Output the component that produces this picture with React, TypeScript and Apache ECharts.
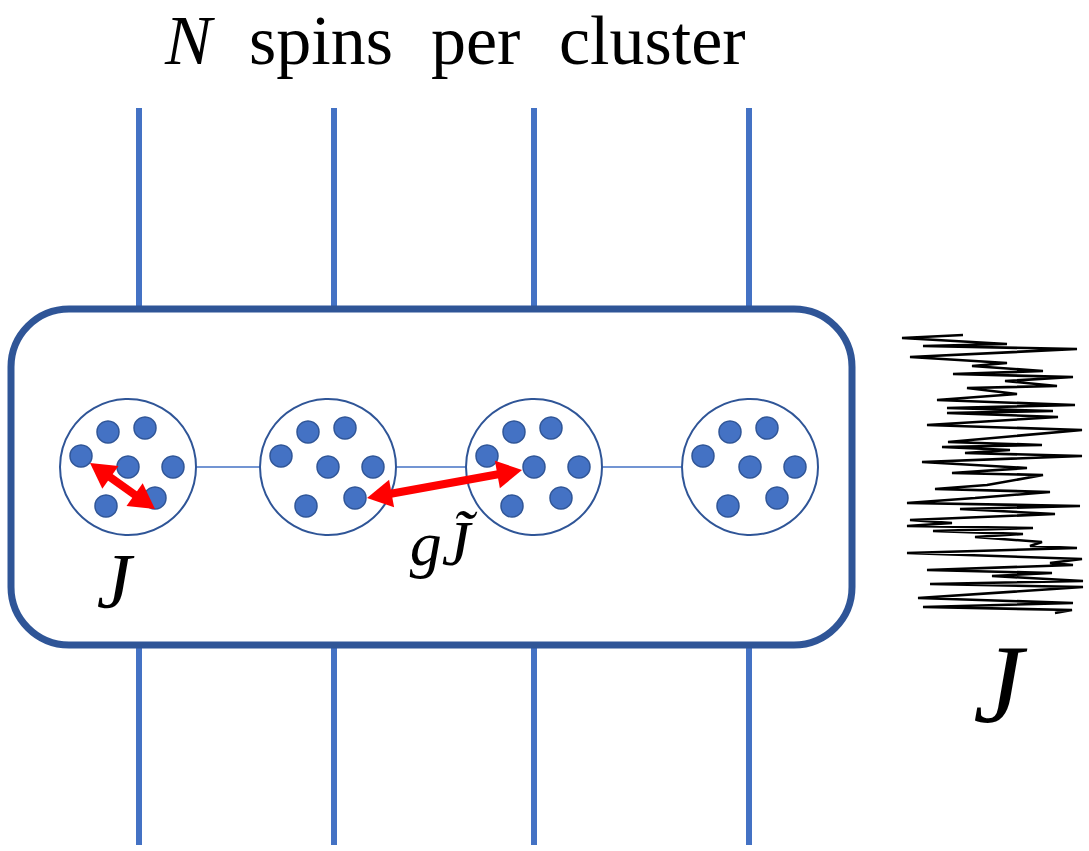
import React, { useEffect, useRef } from "react";
import * as echarts from "echarts";

// ---- Diagram data (diagram coordinates, 1 unit = 1 px of the 1089x851 canvas) ----
const leadX = [139, 334, 534, 749];
const leadTopSpan = [108, 310];
const leadBottomSpan = [645, 845];
const boxSpan = [11, 309, 852, 645];
const clusterX = [128, 328, 534, 750];
const clusterY = 467;
const spinOffsets = [
  [-20, -35],
  [17, -39],
  [-47, -11],
  [0, 0],
  [45, 0],
  [27, 31],
  [-22, 39],
];
const couplingArrows = [
  [90, 463, 155, 509],
  [367, 498, 522, 470],
];
const noiseTrace = [
  [963, 335], [902, 338], [1007, 344], [923, 346], [1077, 349], [910, 357],
  [1007, 363], [972, 366], [1043, 371], [953, 374], [1073, 377], [1005, 381],
  [1057, 386], [967, 388], [1017, 394], [937, 400], [1075, 405], [947, 408],
  [1053, 411], [947, 413], [1058, 417], [927, 425], [1082, 430], [948, 442],
  [1042, 445], [942, 447], [1010, 450], [965, 453], [1082, 456], [922, 462],
  [1027, 468], [952, 473], [1043, 475], [987, 485], [935, 489], [1050, 492],
  [975, 498], [907, 503], [1080, 506], [960, 509], [1055, 514], [910, 520],
  [952, 523], [907, 526], [1033, 528], [933, 531], [1023, 534], [975, 537],
  [1042, 542], [1030, 546], [1077, 548], [907, 553], [1082, 559], [1050, 563],
  [1073, 565], [927, 570], [1052, 573], [992, 576], [1083, 581], [930, 584],
  [1083, 587], [918, 598], [1073, 603], [923, 607], [1072, 610], [1055, 613],
];
const titleWords = ["N", "spins", "per", "cluster"];
const titleWordX = [165, 249, 431, 559];

const BLUE = "#4472C4";
const DARK_BLUE = "#2F5597";
const RED = "#FF0000";

export default function App() {
  const ref = useRef<HTMLDivElement>(null);

  useEffect(() => {
    if (!ref.current) return;
    document.body.style.margin = "0";
    const chart = echarts.init(ref.current, null, { renderer: "svg" });

    const leadData = leadX.flatMap((x) => [
      { coords: [[x, leadTopSpan[0]], [x, leadTopSpan[1]]] },
      { coords: [[x, leadBottomSpan[0]], [x, leadBottomSpan[1]]] },
    ]);
    const connectorData = clusterX.slice(0, -1).map((x, i) => ({
      coords: [[x, clusterY], [clusterX[i + 1], clusterY]],
    }));
    const clusterData = clusterX.map((x) => [x, clusterY]);
    const spinData = clusterX.flatMap((x) =>
      spinOffsets.map(([dx, dy]) => [x + dx, clusterY + dy])
    );

    const serif = "Liberation Serif";
    const titleGraphics = titleWords.map((w, i) => ({
      type: "text",
      x: titleWordX[i],
      y: 40,
      z: 100,
      silent: true,
      style: {
        text: w,
        align: "left",
        verticalAlign: "middle",
        fontFamily: serif,
        fontStyle: i === 0 ? "italic" : "normal",
        fontSize: 70,
        fill: "#000",
      },
    }));

    const option: any = {
      animation: false,
      grid: { left: 0, right: 0, top: 0, bottom: 0 },
      xAxis: { type: "value", min: 0, max: 1089, show: false },
      yAxis: { type: "value", min: 0, max: 851, inverse: true, show: false },
      tooltip: { show: false },
      series: [
        {
          type: "lines",
          coordinateSystem: "cartesian2d",
          silent: true,
          z: 1,
          data: leadData,
          lineStyle: { color: BLUE, width: 6, opacity: 1 },
        },
        {
          type: "custom",
          silent: true,
          z: 2,
          data: [boxSpan],
          encode: { x: [0, 2], y: [1, 3] },
          renderItem: (_p: any, api: any) => {
            const a = api.coord([api.value(0), api.value(1)]);
            const b = api.coord([api.value(2), api.value(3)]);
            return {
              type: "rect",
              shape: { x: a[0], y: a[1], width: b[0] - a[0], height: b[1] - a[1], r: 58 },
              style: { fill: "#ffffff", stroke: DARK_BLUE, lineWidth: 7 },
            };
          },
        },
        {
          type: "lines",
          coordinateSystem: "cartesian2d",
          silent: true,
          z: 3,
          data: connectorData,
          lineStyle: { color: BLUE, width: 1.6, opacity: 1 },
        },
        {
          type: "scatter",
          silent: true,
          z: 4,
          data: clusterData,
          symbol: "circle",
          symbolSize: 136,
          itemStyle: { color: "#ffffff", borderColor: DARK_BLUE, borderWidth: 2, opacity: 1 },
        },
        {
          type: "scatter",
          silent: true,
          z: 5,
          data: spinData,
          symbol: "circle",
          symbolSize: 22,
          itemStyle: { color: BLUE, borderColor: DARK_BLUE, borderWidth: 1.5, opacity: 1 },
        },
        {
          type: "custom",
          silent: true,
          z: 6,
          data: couplingArrows,
          encode: { x: [0, 2], y: [1, 3] },
          renderItem: (_p: any, api: any) => {
            const a = api.coord([api.value(0), api.value(1)]);
            const b = api.coord([api.value(2), api.value(3)]);
            const dx = b[0] - a[0];
            const dy = b[1] - a[1];
            const len = Math.sqrt(dx * dx + dy * dy);
            const ux = dx / len;
            const uy = dy / len;
            const nx = -uy;
            const ny = ux;
            const L = 25;
            const W = 14;
            const head = (tip: number[], sx: number) => {
              const bx = tip[0] - sx * ux * L;
              const by = tip[1] - sx * uy * L;
              return {
                type: "polygon",
                shape: {
                  points: [
                    [tip[0], tip[1]],
                    [bx + nx * W, by + ny * W],
                    [bx - nx * W, by - ny * W],
                  ],
                },
                style: { fill: RED },
              };
            };
            return {
              type: "group",
              children: [
                {
                  type: "line",
                  shape: {
                    x1: a[0] + ux * L * 0.8,
                    y1: a[1] + uy * L * 0.8,
                    x2: b[0] - ux * L * 0.8,
                    y2: b[1] - uy * L * 0.8,
                  },
                  style: { stroke: RED, lineWidth: 8 },
                },
                head(a, -1),
                head(b, 1),
              ],
            };
          },
        },
        {
          type: "line",
          silent: true,
          z: 7,
          data: noiseTrace,
          symbol: "none",
          showSymbol: false,
          lineStyle: { color: "#000000", width: 2.6 },
        },
      ],
      graphic: [
        ...titleGraphics,
        {
          type: "text",
          x: 114,
          y: 580,
          z: 100,
          silent: true,
          style: {
            text: "J",
            align: "center",
            verticalAlign: "middle",
            fontFamily: serif,
            fontStyle: "italic",
            fontSize: 78,
            fill: "#000",
          },
        },
        {
          type: "text",
          x: 440,
          y: 543,
          z: 100,
          silent: true,
          style: {
            text: "gJ\u0303",
            align: "center",
            verticalAlign: "middle",
            fontFamily: serif,
            fontStyle: "italic",
            fontSize: 64,
            fill: "#000",
          },
        },
        {
          type: "text",
          x: 998,
          y: 684,
          z: 100,
          silent: true,
          style: {
            text: "J",
            align: "center",
            verticalAlign: "middle",
            fontFamily: serif,
            fontStyle: "italic",
            fontSize: 112,
            fill: "#000",
          },
        },
      ],
    };

    chart.setOption(option);
    return () => chart.dispose();
  }, []);

  return (
    <div
      ref={ref}
      style={{ position: "fixed", left: 0, top: 0, width: 1089, height: 851, background: "#fff" }}
    />
  );
}
